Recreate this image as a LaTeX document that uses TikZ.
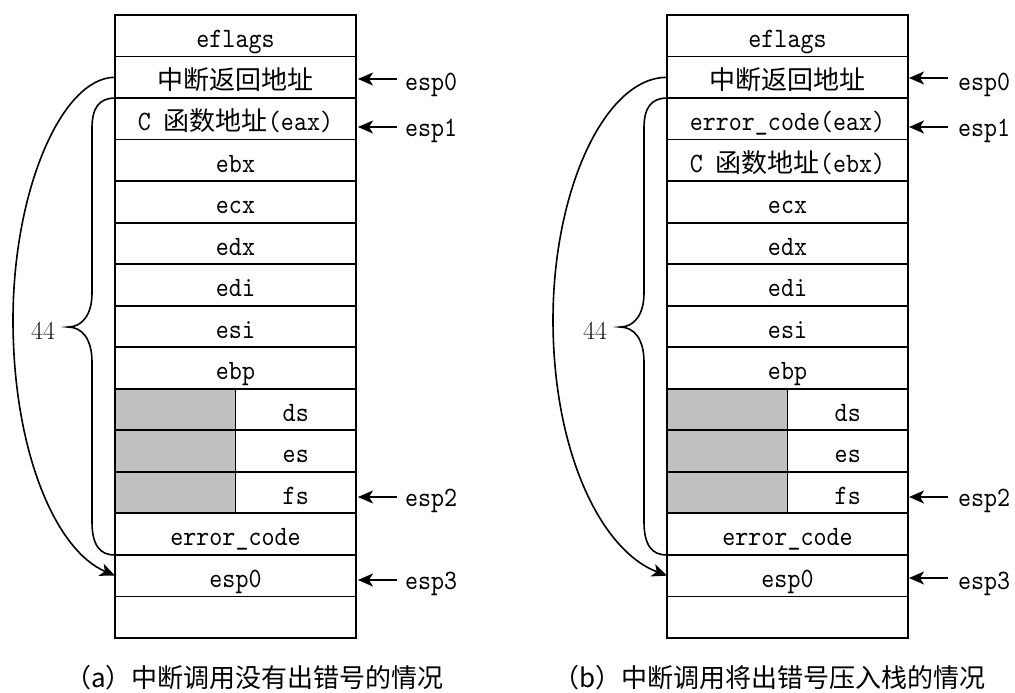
\documentclass[tikz,border=0pt]{standalone}
\usepackage{fontspec}
\newfontfamily\cjk{Noto Sans CJK SC}
\newfontfamily\mono[FakeStretch=0.885]{lmmono10-regular.otf}
\usetikzlibrary{arrows.meta}
\definecolor{cellgray}{HTML}{C0C0C0}
\newcommand\cj[1]{{\cjk\fontsize{26}{30}\selectfont #1}}
\begin{document}
\begin{tikzpicture}[x=1pt,y=-1pt,
  rowbox/.style={draw,line width=1.8pt,minimum width=241pt,minimum height=41.53pt,inner sep=0pt,outer sep=0pt},
  txt/.style={anchor=base,inner sep=0pt,font=\mono\fontsize{28}{32}\selectfont},
  lab/.style={anchor=base west,inner sep=0pt,font=\mono\fontsize{28}{32}\selectfont},
  captxt/.style={anchor=base west,inner sep=0pt,font=\cjk\fontsize{26}{30}\selectfont},
  num/.style={anchor=base west,inner sep=0pt,text=black!90,font=\fontsize{26}{30}\selectfont},
  ptr/.style={line width=1.7pt,{Stealth[length=15pt,width=13pt,inset=4pt]}-},
  link/.style={line width=1.6pt},
  linkarrow/.style={line width=1.6pt,-{Stealth[length=15pt,width=13pt,inset=4pt]}}]
\useasboundingbox (0,0) rectangle (1015,693);
% rows
\foreach \i in {0,...,14}{
  \node[rowbox] (L\i) at (235.5,{15+(\i+0.5)*41.53}) {};
  \node[rowbox] (R\i) at (787.5,{15+(\i+0.5)*41.53}) {};
}
\foreach \i in {9,10,11}{
  \draw[line width=1.8pt,fill=cellgray] (L\i.north west) rectangle (L\i.south);
  \draw[line width=1.8pt,fill=cellgray] (R\i.north west) rectangle (R\i.south);
}
% left texts
\node[txt] (tL0) at ([yshift=9pt]L0.south) {eflags};
\node[txt] (tL1) at ([yshift=9pt]L1.south) {\cj{中断返回地址}};
\node[txt] (tL2) at ([yshift=9pt]L2.south) {C \cj{函数地址}(eax)};
\node[txt] (tL3) at ([yshift=9pt]L3.south) {ebx};
\node[txt] (tL4) at ([yshift=9pt]L4.south) {ecx};
\node[txt] (tL5) at ([yshift=9pt]L5.south) {edx};
\node[txt] (tL6) at ([yshift=9pt]L6.south) {edi};
\node[txt] (tL7) at ([yshift=9pt]L7.south) {esi};
\node[txt] (tL8) at ([yshift=9pt]L8.south) {ebp};
\node[txt] (tL9) at ([xshift=60.25pt,yshift=9pt]L9.south) {ds};
\node[txt] (tL10) at ([xshift=60.25pt,yshift=9pt]L10.south) {es};
\node[txt] (tL11) at ([xshift=60.25pt,yshift=9pt]L11.south) {fs};
\node[txt] (tL12) at ([yshift=9pt]L12.south) {error\_code};
\node[txt] (tL13) at ([yshift=9pt]L13.south) {esp0};
% right texts
\node[txt] (tR0) at ([yshift=9pt]R0.south) {eflags};
\node[txt] (tR1) at ([yshift=9pt]R1.south) {\cj{中断返回地址}};
\node[txt] (tR2) at ([yshift=9pt]R2.south) {error\_code(eax)};
\node[txt] (tR3) at ([yshift=9pt]R3.south) {C \cj{函数地址}(ebx)};
\node[txt] (tR4) at ([yshift=9pt]R4.south) {ecx};
\node[txt] (tR5) at ([yshift=9pt]R5.south) {edx};
\node[txt] (tR6) at ([yshift=9pt]R6.south) {edi};
\node[txt] (tR7) at ([yshift=9pt]R7.south) {esi};
\node[txt] (tR8) at ([yshift=9pt]R8.south) {ebp};
\node[txt] (tR9) at ([xshift=60.25pt,yshift=9pt]R9.south) {ds};
\node[txt] (tR10) at ([xshift=60.25pt,yshift=9pt]R10.south) {es};
\node[txt] (tR11) at ([xshift=60.25pt,yshift=9pt]R11.south) {fs};
\node[txt] (tR12) at ([yshift=9pt]R12.south) {error\_code};
\node[txt] (tR13) at ([yshift=9pt]R13.south) {esp0};
% pointer labels left
\coordinate (aL0) at (397,79);
\coordinate (aL1) at (397,127);
\coordinate (aL2) at (397,497);
\coordinate (aL3) at (397,580);
\node[lab] (pL0) at (405,90) {esp0};
\node[lab] (pL1) at (405,136) {esp1};
\node[lab] (pL2) at (405,506) {esp2};
\node[lab] (pL3) at (405,589) {esp3};
\draw[ptr] ([xshift=2pt]aL0 -| L1.east) -- (aL0);
\draw[ptr] ([xshift=2pt]aL1 -| L2.east) -- (aL1);
\draw[ptr] ([xshift=2pt]aL2 -| L11.east) -- (aL2);
\draw[ptr] ([xshift=2pt]aL3 -| L13.east) -- (aL3);
% pointer labels right
\coordinate (aR0) at (948,78);
\coordinate (aR1) at (948,127);
\coordinate (aR2) at (948,497);
\coordinate (aR3) at (948,578);
\node[lab] (pR0) at (958,90) {esp0};
\node[lab] (pR1) at (958,136) {esp1};
\node[lab] (pR2) at (958,506) {esp2};
\node[lab] (pR3) at (958,589) {esp3};
\draw[ptr] ([xshift=1pt]aR0 -| R1.east) -- (aR0);
\draw[ptr] ([xshift=1pt]aR1 -| R2.east) -- (aR1);
\draw[ptr] ([xshift=1pt]aR2 -| R11.east) -- (aR2);
\draw[ptr] ([xshift=1pt]aR3 -| R13.east) -- (aR3);
% braces and curves left
\draw[link] (L2.north west) .. controls (99,98.1) and (92,108) .. (92,128) -- (92,293)
  .. controls (92,315) and (82,327) .. (68,327)
  .. controls (82,327) and (92,339) .. (92,362) -- (92,522)
  .. controls (92,545) and (100,555.4) .. (L12.south west);
\draw[linkarrow] (L1.west) .. controls (62,77.3) and (13,190) .. (13,320)
  .. controls (13,450) and (55,550) .. (L13.west);
\node[num] (nL) at (31,339) {44};
% braces and curves right
\draw[link] (R2.north west) .. controls (651,98.1) and (644,108) .. (644,128) -- (644,293)
  .. controls (644,315) and (634,327) .. (620,327)
  .. controls (634,327) and (644,339) .. (644,362) -- (644,522)
  .. controls (644,545) and (652,555.4) .. (R12.south west);
\draw[linkarrow] (R1.west) .. controls (605,77.3) and (553,190) .. (553,320)
  .. controls (553,450) and (600,550) .. (R13.west);
\node[num] (nR) at (583,339) {44};
% captions
\node[captxt] (capL) at (65,687) {（a）中断调用没有出错号的情况};
\node[captxt] (capR) at (553,687) {（b）中断调用将出错号压入栈的情况};
\end{tikzpicture}
\end{document}
